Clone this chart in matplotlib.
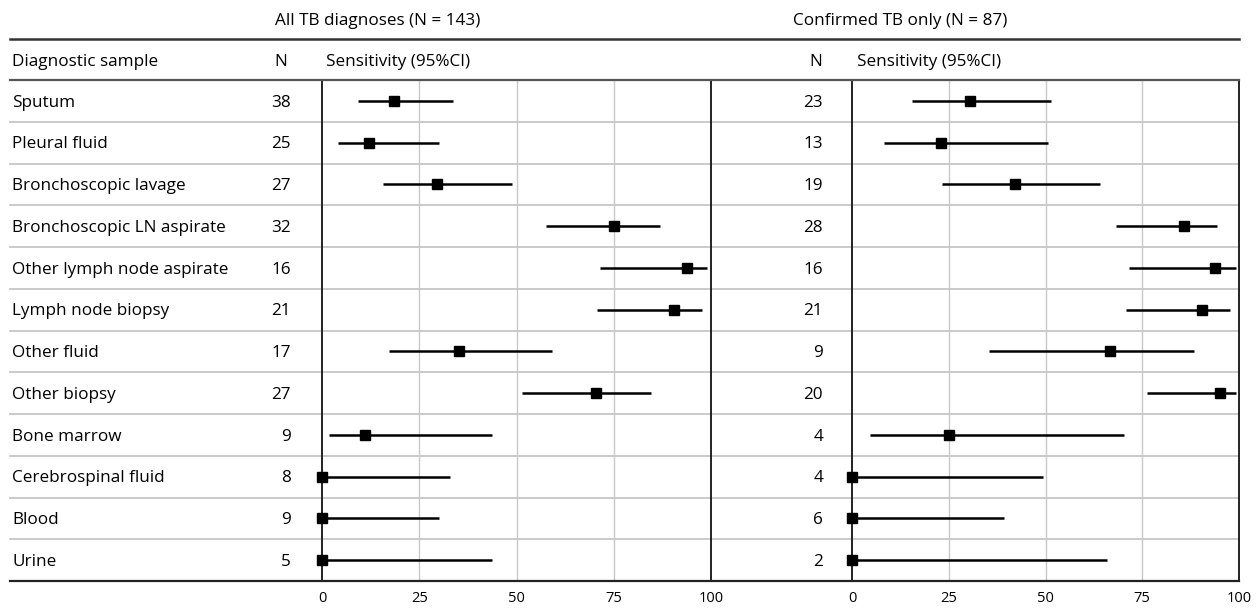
import matplotlib
matplotlib.use("Agg")
import matplotlib.pyplot as plt
import matplotlib.transforms as mtransforms
from matplotlib.lines import Line2D

plt.rcParams['font.family'] = ['Open Sans', 'DejaVu Sans']

samples = ["Sputum", "Pleural fluid", "Bronchoscopic lavage", "Bronchoscopic LN aspirate",
           "Other lymph node aspirate", "Lymph node biopsy", "Other fluid", "Other biopsy",
           "Bone marrow", "Cerebrospinal fluid", "Blood", "Urine"]

# All TB diagnoses (N = 143)
n_all = [38, 25, 27, 32, 16, 21, 17, 27, 9, 8, 9, 5]
sens_all = [18.4, 12.0, 29.6, 75.0, 93.8, 90.5, 35.3, 70.4, 11.1, 0.0, 0.0, 0.0]
lo_all = [9.3, 4.1, 15.6, 57.7, 71.4, 70.8, 17.2, 51.3, 1.8, 0.0, 0.0, 0.0]
hi_all = [33.7, 30.1, 48.8, 86.9, 99.1, 97.6, 59.0, 84.5, 43.7, 32.8, 30.2, 43.7]

# Confirmed TB only (N = 87)
n_conf = [23, 13, 19, 28, 16, 21, 9, 20, 4, 4, 6, 2]
sens_conf = [30.4, 23.1, 42.1, 85.7, 93.8, 90.5, 66.7, 95.0, 25.0, 0.0, 0.0, 0.0]
lo_conf = [15.5, 8.2, 23.2, 68.2, 71.5, 70.8, 35.4, 76.3, 4.6, 0.0, 0.0, 0.0]
hi_conf = [51.3, 50.7, 64.1, 94.4, 99.1, 97.6, 88.3, 99.1, 70.2, 49.4, 39.4, 66.0]

ticks = [0, 25, 50, 75, 100]
tick_labels = ["0", "25", "50", "75", "100"]
group_titles = ["All TB diagnoses (N = 143)", "Confirmed TB only (N = 87)"]

W, H = 1259, 608
fig = plt.figure(figsize=(W / 100, H / 100), dpi=100)
fig.patch.set_facecolor("white")

def fx(px):
    return px / W

def fy(py):
    return 1 - py / H

top_px, bot_px = 80, 581
panels_px = [(322, 711), (852, 1239)]
nrows = len(samples)

axes = []
for (x0, x1) in panels_px:
    ax = fig.add_axes([fx(x0), fy(bot_px), (x1 - x0) / W, (bot_px - top_px) / H])
    ax.set_facecolor("none")
    ax.set_xlim(0, 100)
    ax.set_ylim(nrows, 0)
    for s in ["top", "bottom"]:
        ax.spines[s].set_visible(False)
    for s in ["left", "right"]:
        ax.spines[s].set_color("#222222")
        ax.spines[s].set_linewidth(1.4)
    ax.set_yticks([])
    ax.set_xticks(ticks)
    ax.set_xticklabels(tick_labels, fontsize=10.5)
    ax.tick_params(axis="x", length=0, pad=7)
    for t in ticks[1:-1]:
        ax.axvline(t, color="#c8c8c8", lw=1.0, zorder=1)
    axes.append(ax)

axL, axR = axes
rows = list(range(nrows))
ycent = [r + 0.5 for r in rows]

for ax, sens, lo, hi in [(axL, sens_all, lo_all, hi_all), (axR, sens_conf, lo_conf, hi_conf)]:
    ax.hlines(ycent, lo, hi, color="black", lw=1.8, zorder=3, clip_on=False)
    ax.plot(sens, ycent, "s", color="black", ms=7.4, zorder=4, clip_on=False)

trans_row = mtransforms.blended_transform_factory(fig.transFigure, axL.transData)

# row separators
for k in range(1, nrows):
    fig.add_artist(Line2D([fx(10), fx(1239)], [k, k], transform=trans_row,
                          color="#c6c6c6", lw=1.3, zorder=0))
# table rules
fig.add_artist(Line2D([fx(10), fx(1239)], [fy(39), fy(39)], color="#333333", lw=1.8))
fig.add_artist(Line2D([fx(10), fx(1239)], [fy(80), fy(80)], color="#555555", lw=1.6))
fig.add_artist(Line2D([fx(10), fx(1239)], [fy(581), fy(581)], color="#222222", lw=1.6))

fs = 12.3
# group titles
fig.text(fx(378), fy(21), group_titles[0], ha="center", va="center", fontsize=fs)
fig.text(fx(900), fy(21), group_titles[1], ha="center", va="center", fontsize=fs)
# column headers
fig.text(fx(12), fy(62), "Diagnostic sample", ha="left", va="center", fontsize=fs)
fig.text(fx(281), fy(62), "N", ha="center", va="center", fontsize=fs)
fig.text(fx(326), fy(62), "Sensitivity (95%CI)", ha="left", va="center", fontsize=fs)
fig.text(fx(816), fy(62), "N", ha="center", va="center", fontsize=fs)
fig.text(fx(857), fy(62), "Sensitivity (95%CI)", ha="left", va="center", fontsize=fs)

text_dy = 0.04
for r, name, a, c in zip(rows, samples, n_all, n_conf):
    fig.text(fx(12), r + 0.5 + text_dy, name, transform=trans_row, ha="left", va="center", fontsize=fs)
    fig.text(fx(291), r + 0.5 + text_dy, str(a), transform=trans_row, ha="right", va="center", fontsize=fs)
    fig.text(fx(823), r + 0.5 + text_dy, str(c), transform=trans_row, ha="right", va="center", fontsize=fs)

fig.savefig("out.png", dpi=100, facecolor="white")
